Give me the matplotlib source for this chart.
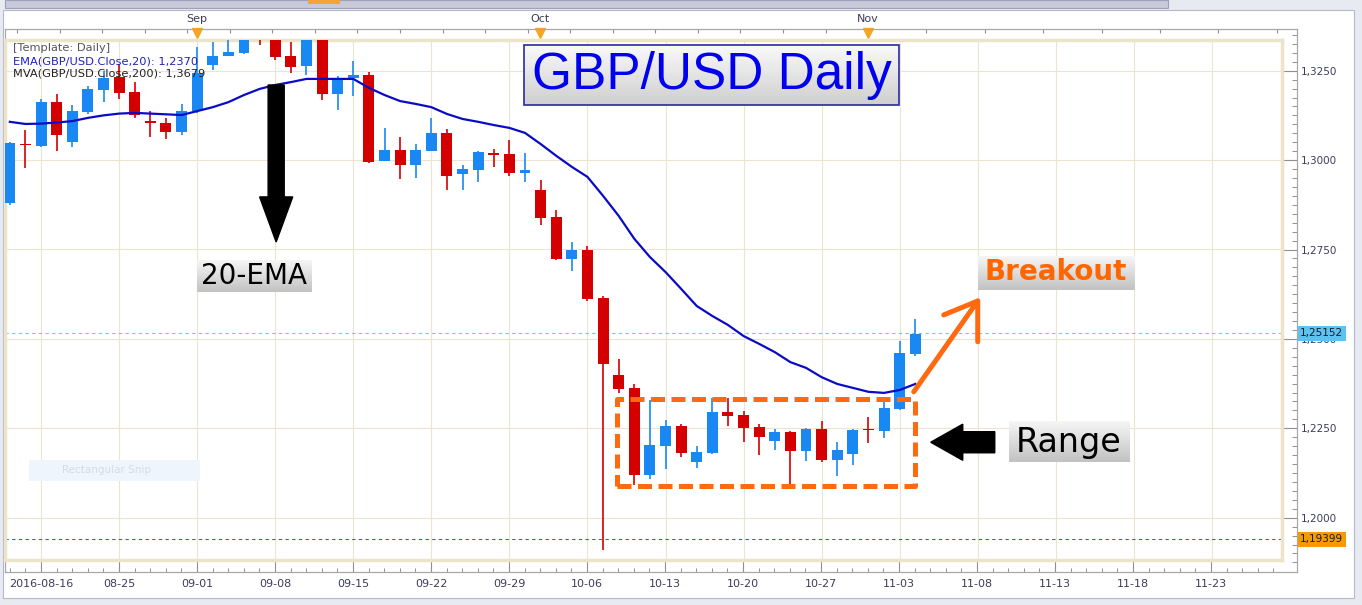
import numpy as np
import matplotlib.pyplot as plt
from matplotlib.patches import Rectangle, FancyArrow
from matplotlib.colors import LinearSegmentedColormap
from matplotlib.transforms import blended_transform_factory

# GBP/USD daily candles, x = trading-day index (0 = "2016-08-16" tick)
opens = [1.2880, 1.3043, 1.3039, 1.3162, 1.3051, 1.3135, 1.3196, 1.3232, 1.3190, 1.3108,
         1.3104, 1.3079, 1.3137, 1.3266, 1.3291, 1.3300, 1.3420, 1.3360, 1.3291, 1.3263,
         1.3360, 1.3185, 1.3230, 1.3238, 1.2998, 1.3028, 1.2986, 1.3025, 1.3076, 1.2961,
         1.2972, 1.3020, 1.3017, 1.2964, 1.2916, 1.2841, 1.2723, 1.2749, 1.2614, 1.2399,
         1.2363, 1.2119, 1.2201, 1.2256, 1.2156, 1.2181, 1.2296, 1.2287, 1.2254, 1.2214,
         1.2240, 1.2187, 1.2248, 1.2161, 1.2178, 1.2246, 1.2242, 1.2304, 1.2458]
highs = [1.3050, 1.3084, 1.3171, 1.3185, 1.3154, 1.3207, 1.3249, 1.3269, 1.3218, 1.3137,
         1.3118, 1.3157, 1.3316, 1.3330, 1.3335, 1.3380, 1.3440, 1.3400, 1.3330, 1.3380,
         1.3400, 1.3235, 1.3277, 1.3246, 1.3090, 1.3065, 1.3045, 1.3118, 1.3087, 1.2986,
         1.3025, 1.3031, 1.3056, 1.3020, 1.2944, 1.2860, 1.2771, 1.2760, 1.2620, 1.2444,
         1.2374, 1.2329, 1.2273, 1.2262, 1.2201, 1.2335, 1.2335, 1.2298, 1.2262, 1.2248,
         1.2242, 1.2250, 1.2270, 1.2212, 1.2248, 1.2282, 1.2335, 1.2494, 1.2556]
lows = [1.2875, 1.2978, 1.3036, 1.3025, 1.3037, 1.3129, 1.3162, 1.3171, 1.3118, 1.3065,
        1.3059, 1.3070, 1.3132, 1.3252, 1.3290, 1.3298, 1.3322, 1.3280, 1.3244, 1.3238,
        1.3168, 1.3140, 1.3179, 1.2993, 1.2997, 1.2947, 1.2950, 1.3025, 1.2916, 1.2916,
        1.2939, 1.2981, 1.2955, 1.2939, 1.2819, 1.2721, 1.2690, 1.2606, 1.1910, 1.2349,
        1.2091, 1.2108, 1.2136, 1.2170, 1.2139, 1.2178, 1.2256, 1.2212, 1.2175, 1.2189,
        1.2086, 1.2159, 1.2156, 1.2117, 1.2147, 1.2209, 1.2223, 1.2301, 1.2452]
closes = [1.3048, 1.3041, 1.3162, 1.3070, 1.3137, 1.3199, 1.3230, 1.3188, 1.3126, 1.3105,
          1.3079, 1.3137, 1.3244, 1.3291, 1.3302, 1.3345, 1.3350, 1.3288, 1.3260, 1.3350,
          1.3185, 1.3230, 1.3238, 1.2995, 1.3028, 1.2986, 1.3028, 1.3076, 1.2955, 1.2975,
          1.3023, 1.3014, 1.2964, 1.2972, 1.2838, 1.2723, 1.2749, 1.2612, 1.2430, 1.2360,
          1.2119, 1.2203, 1.2256, 1.2181, 1.2184, 1.2296, 1.2284, 1.2251, 1.2226, 1.2240,
          1.2187, 1.2248, 1.2161, 1.2189, 1.2245, 1.2244, 1.2307, 1.2461, 1.2515]
ema20 = [1.3107, 1.3101, 1.3102, 1.3105, 1.3109, 1.3118, 1.3125, 1.3130, 1.3132, 1.3130,
         1.3128, 1.3126, 1.3137, 1.3148, 1.3162, 1.3182, 1.3199, 1.3210, 1.3218, 1.3227,
         1.3227, 1.3227, 1.3227, 1.3202, 1.3182, 1.3165, 1.3157, 1.3148, 1.3129, 1.3115,
         1.3107, 1.3098, 1.3090, 1.3076, 1.3045, 1.3012, 1.2981, 1.2953, 1.2900, 1.2844,
         1.2780, 1.2729, 1.2687, 1.2640, 1.2592, 1.2564, 1.2539, 1.2508, 1.2486, 1.2463,
         1.2435, 1.2419, 1.2393, 1.2374, 1.2363, 1.2352, 1.2349, 1.2357, 1.2374]
first_idx = -2

date_labels = ['2016-08-16', '08-25', '09-01', '09-08', '09-15', '09-22', '09-29', '10-06',
               '10-13', '10-20', '10-27', '11-03', '11-08', '11-13', '11-18', '11-23']
date_pos = np.arange(0, 80, 5)
month_labels = ['Sep', 'Oct', 'Nov']
month_pos = [10, 32, 53]
price_ticks = [1.2000, 1.2250, 1.2500, 1.2750, 1.3000, 1.3250]
last_price = 1.25152
low_price = 1.19399

BLUE = '#1a88f2'
RED = '#d40000'
ORANGE = '#ff6a10'
LABEL = '#3c3c5a'

plt.rcParams['font.family'] = ['DejaVu Sans']

W, H = 1362, 605
fig = plt.figure(figsize=(W / 100, H / 100), dpi=100, facecolor='#e8eaf2')


def fx(px):
    return px / W


def fy(py):
    return 1 - py / H


# window panel + toolbar
fig.patches.append(Rectangle((fx(3), fy(598)), fx(1351), (598 - 10) / H, transform=fig.transFigure,
                             fc='white', ec='#b4b8c8', lw=0.8, zorder=-5))
fig.patches.append(Rectangle((fx(5), fy(8)), fx(1163), 8 / H, transform=fig.transFigure,
                             fc='#c8cada', ec='#9ea1b8', lw=0.8, zorder=-4))
fig.patches.append(Rectangle((fx(308), fy(4)), fx(32), 4 / H, transform=fig.transFigure,
                             fc='#f4a43a', ec='none', zorder=-3))

# outer scale frame
frame = fig.add_axes([fx(5), fy(572), fx(1292), (572 - 29) / H], zorder=1)
frame.set_facecolor('white')
frame.set_xlim(-2.31, 80.51)
frame.set_ylim(1.18482, 1.33666)
for s in frame.spines.values():
    s.set_color('#a8a8a8')
    s.set_linewidth(0.9)
frame.set_xticks(date_pos)
frame.set_xticklabels(date_labels)
frame.set_xticks([v for v in np.arange(-2, 81) if v % 5 != 0], minor=True)
frame.yaxis.tick_right()
frame.set_yticks(price_ticks)
frame.set_yticklabels([f"{v:.4f}".replace('.', ',') for v in price_ticks])
frame.set_yticks(np.arange(1.1875, 1.336, 0.0025), minor=True)
frame.tick_params(axis='x', which='major', direction='in', length=8.6, width=0.8, color='#909090',
                  labelsize=8, labelcolor=LABEL, pad=5)
frame.tick_params(axis='x', which='minor', direction='in', length=3, width=0.7, color='#909090')
frame.tick_params(axis='y', which='major', direction='in', length=10.8, width=0.8, color='#909090',
                  labelsize=7.5, labelcolor=LABEL, pad=2.5)
frame.tick_params(axis='y', which='minor', direction='in', length=3.6, width=0.7, color='#909090')

# top scale ticks + month markers
top_ticks = np.concatenate([np.arange(-1.54, 53.0, 2.728), np.arange(53.0, 80.0, 3.745)])
frame.vlines(top_ticks, 1.33666 - 0.0011, 1.33666, color='#909090', lw=0.8)
frame.plot(month_pos, [1.33555] * 3, 'v', color='#f5a623', ms=7, clip_on=False)
for m, p in zip(month_labels, month_pos):
    frame.text(p, 1.3395, m, ha='center', va='center', fontsize=8, color=LABEL, clip_on=False)

# price panel
ax = fig.add_axes([fx(5), fy(560), fx(1277), (560 - 40) / H], zorder=2)
ax.set_facecolor('white')
for s in ax.spines.values():
    s.set_color('#ece3c8')
    s.set_linewidth(2.5)
ax.set_xticks(date_pos)
ax.set_yticks(price_ticks)
ax.tick_params(length=0, labelbottom=False, labelleft=False)
ax.grid(True, color='#ece3d0', lw=0.8)
ax.set_axisbelow(True)

x = np.arange(len(opens)) + first_idx
o = np.array(opens)
c = np.array(closes)
col = [BLUE if cc >= oo else RED for oo, cc in zip(o, c)]
ax.vlines(x, lows, highs, colors=col, lw=1.2, zorder=3)
ax.bar(x, np.maximum(np.abs(c - o), 0.0003), bottom=np.minimum(o, c), width=0.7,
       color=col, zorder=3.1)
ax.plot(x, ema20, color='#0b0bc4', lw=1.6, zorder=3.5)

ax.axhline(last_price, color='#7cc3e8', lw=0.8, dashes=(3, 3), zorder=2.5)
ax.axhline(low_price, color='#2e6aa8', lw=0.8, dashes=(3, 3), zorder=2.5)

tr = blended_transform_factory(frame.transAxes, frame.transData)
frame.text(1.0025, last_price, f"{last_price:.5f}".replace('.', ','), transform=tr, fontsize=7.5,
           va='center', ha='left', color='#1a1a2a', zorder=6,
           bbox=dict(boxstyle='square,pad=0.25', fc='#5cc2f0', ec='none'))
frame.text(1.0025, low_price, f"{low_price:.5f}".replace('.', ','), transform=tr, fontsize=7.5,
           va='center', ha='left', color='#1a1a2a', zorder=6,
           bbox=dict(boxstyle='square,pad=0.25', fc='#f59a00', ec='none'))

# indicator legend
fig.text(fx(13), fy(48), '[Template: Daily]', fontsize=8.2, color='#555555', va='center', zorder=5)
fig.text(fx(13), fy(61), 'EMA(GBP/USD.Close,20): 1,2370', fontsize=8.2, color='#2020c0', va='center', zorder=5)
fig.text(fx(13), fy(74), 'MVA(GBP/USD.Close,200): 1,3679', fontsize=8.2, color='#222222', va='center', zorder=5)


def grad_box(x0, x1, y0, y1, top='#f6f6f6', bottom='#c2c2c2', edge=None):
    cmap = LinearSegmentedColormap.from_list('g', [top, bottom])
    ax.imshow(np.linspace(0, 1, 64).reshape(-1, 1), cmap=cmap, extent=[x0, x1, y0, y1],
              aspect='auto', origin='upper', zorder=6)
    if edge:
        ax.add_patch(Rectangle((x0, y0), x1 - x0, y1 - y0, fill=False, ec=edge, lw=1.2, zorder=6.1))


# title
grad_box(30.96, 54.94, 1.3154, 1.3322, top='#fafafa', bottom='#cfcfcf', edge='#2a2aa0')
ax.text(42.95, 1.3236, 'GBP/USD Daily', fontsize=37, family='Liberation Sans', color='#0000ee',
        ha='center', va='center', zorder=7)

# 20-EMA arrow + label
ax.add_patch(FancyArrow(15.06, 1.3210, 0, -0.0439, width=1.03, head_width=2.12, head_length=0.0126,
                        length_includes_head=True, color='black', zorder=6))
grad_box(10.0, 17.31, 1.2631, 1.2720)
ax.text(13.65, 1.2675, '20-EMA', fontsize=20, color='black', ha='center', va='center', zorder=7)

# range box, arrow + label
ax.add_patch(Rectangle((36.92, 1.2089), 55.96 - 36.92, 1.2332 - 1.2089, fill=False, ec=ORANGE,
                       lw=3.6, ls=(0, (2.8, 1.3)), joinstyle='round', zorder=5))
ax.add_patch(FancyArrow(61.09, 1.2211, -4.10, 0, width=0.0059, head_width=0.0101, head_length=2.05,
                        length_includes_head=True, color='black', zorder=6))
grad_box(61.99, 69.68, 1.2156, 1.2270)
ax.text(65.83, 1.2210, 'Range', fontsize=24, color='black', ha='center', va='center', zorder=7)

# breakout arrow + label
ax.plot([55.90, 60.0], [1.2352, 1.2606], color=ORANGE, lw=3.6, solid_capstyle='round', zorder=5)
ax.plot([57.82, 60.0, 60.0], [1.2567, 1.2606, 1.2492], color=ORANGE, lw=3.6,
        solid_capstyle='round', solid_joinstyle='round', zorder=5)
grad_box(60.0, 70.0, 1.2637, 1.2732)
ax.text(65.0, 1.2686, 'Breakout', fontsize=20, fontweight='bold', color='#ff6600',
        ha='center', va='center', zorder=7)

# faint screenshot leftover
ax.add_patch(Rectangle((-0.77, 1.2103), 10.96, 0.0058, fc='#eef5fd', ec='none', zorder=2.6))
ax.text(1.35, 1.2132, 'Rectangular Snip', fontsize=7.5, color='#d3dbe6', va='center', zorder=2.7)

ax.set_xlim(-2.31, 79.49)
ax.set_ylim(1.18817, 1.33358)

fig.savefig('out.png', dpi=100, facecolor=fig.get_facecolor())
